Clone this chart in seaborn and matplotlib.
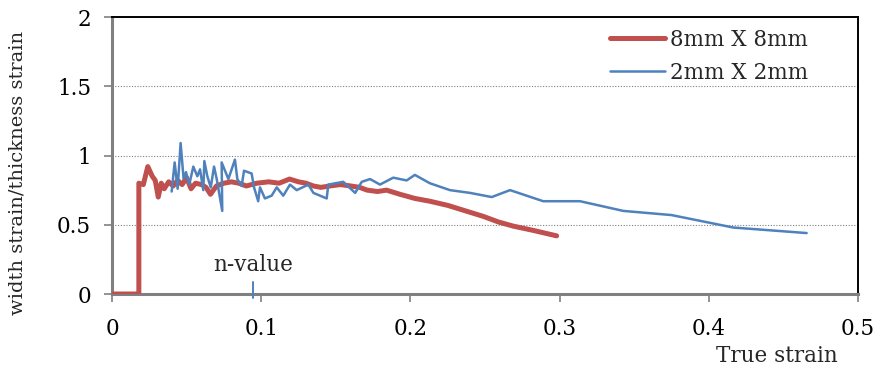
import matplotlib
matplotlib.use("Agg")
import matplotlib.pyplot as plt
import seaborn as sns
import pandas as pd

# 8mm X 8mm gauge: true strain vs width/thickness strain ratio
strain_8mm = [0.0, 0.018, 0.018, 0.021, 0.024, 0.027, 0.029, 0.031, 0.033, 0.035,
              0.038, 0.041, 0.044, 0.047, 0.050, 0.053, 0.056, 0.060, 0.063, 0.066,
              0.070, 0.075, 0.080, 0.085, 0.090, 0.097, 0.105, 0.112, 0.119, 0.125,
              0.130, 0.135, 0.140, 0.146, 0.153, 0.160, 0.166, 0.171, 0.178, 0.184,
              0.193, 0.203, 0.213, 0.225, 0.237, 0.249, 0.259, 0.269, 0.282, 0.298]
ratio_8mm = [0.0, 0.0, 0.80, 0.79, 0.92, 0.85, 0.82, 0.70, 0.80, 0.76,
             0.81, 0.78, 0.82, 0.79, 0.84, 0.76, 0.80, 0.79, 0.77, 0.72,
             0.78, 0.80, 0.81, 0.80, 0.78, 0.80, 0.81, 0.80, 0.83, 0.81,
             0.80, 0.78, 0.77, 0.78, 0.79, 0.78, 0.77, 0.75, 0.74, 0.75,
             0.72, 0.69, 0.67, 0.64, 0.60, 0.56, 0.52, 0.49, 0.46, 0.42]

# 2mm X 2mm gauge
strain_2mm = [0.040, 0.042, 0.044, 0.046, 0.048, 0.0496, 0.0518, 0.0545, 0.0572, 0.059,
              0.0612, 0.0619, 0.0639, 0.0662, 0.0684, 0.0702, 0.0739, 0.0735, 0.078, 0.0824,
              0.084, 0.0869, 0.0885, 0.0936, 0.0952, 0.098, 0.0992, 0.1025, 0.107, 0.1104,
              0.1148, 0.1193, 0.1238, 0.1316, 0.135, 0.1439, 0.145, 0.155, 0.163, 0.1674,
              0.173, 0.1796, 0.1885, 0.1975, 0.203, 0.213, 0.2265, 0.240, 0.2545, 0.2668,
              0.289, 0.3137, 0.3427, 0.375, 0.4164, 0.4656]
ratio_2mm = [0.74, 0.95, 0.76, 1.09, 0.83, 0.88, 0.79, 0.92, 0.85, 0.90,
             0.75, 0.96, 0.85, 0.77, 0.92, 0.83, 0.60, 0.95, 0.83, 0.97,
             0.83, 0.78, 0.89, 0.87, 0.77, 0.67, 0.77, 0.69, 0.71, 0.77,
             0.71, 0.79, 0.75, 0.79, 0.73, 0.69, 0.79, 0.81, 0.73, 0.81,
             0.83, 0.79, 0.84, 0.82, 0.86, 0.80, 0.75, 0.73, 0.70, 0.75,
             0.67, 0.67, 0.60, 0.57, 0.48, 0.44]

series_labels = ["8mm X 8mm", "2mm X 2mm"]
n_value = 0.0945
x_ticks = [0, 0.1, 0.2, 0.3, 0.4, 0.5]
x_tick_labels = ["0", "0.1", "0.2", "0.3", "0.4", "0.5"]
y_ticks = [0, 0.5, 1, 1.5, 2]
y_tick_labels = ["0", "0.5", "1", "1.5", "2"]

df8 = pd.DataFrame({"strain": strain_8mm, "ratio": ratio_8mm})
df2 = pd.DataFrame({"strain": strain_2mm, "ratio": ratio_2mm})

sns.set_style("white")
plt.rcParams["font.family"] = ["DejaVu Serif"]
FS = 15.5

fig = plt.figure(figsize=(8.77, 3.74), dpi=100)
ax = fig.add_axes([0.1277, 0.2139, 0.8506, 0.7406])

red = "#C0504D"
blue = "#4F81BD"

sns.lineplot(data=df8, x="strain", y="ratio", sort=False, estimator=None,
             color=red, linewidth=3.6, label=series_labels[0], ax=ax,
             solid_capstyle="round", zorder=3)
sns.lineplot(data=df2, x="strain", y="ratio", sort=False, estimator=None,
             color=blue, linewidth=1.8, label=series_labels[1], ax=ax, zorder=4)

ax.set_xlim(0, 0.5)
ax.set_ylim(0, 2)
ax.set_xticks(x_ticks)
ax.set_xticklabels(x_tick_labels)
ax.set_yticks(y_ticks)
ax.set_yticklabels(y_tick_labels)
ax.tick_params(axis="both", direction="out", length=6, width=1.2, color="#808080",
               labelsize=FS, labelcolor="black", bottom=True, left=True)
ax.tick_params(axis="x", pad=11)
ax.tick_params(axis="y", pad=9)

# horizontal dotted gridlines
for yv in y_ticks[1:-1]:
    ax.axhline(yv, color="#808080", linestyle=(0, (1, 1.5)), linewidth=0.8, zorder=1)

for side in ("left", "bottom"):
    ax.spines[side].set_color("#808080")
    ax.spines[side].set_linewidth(2.2)
for side in ("top", "right"):
    ax.spines[side].set_color("black")
    ax.spines[side].set_linewidth(1.4)

# n-value marker
ax.plot([n_value, n_value], [-0.03, 0.09], color=blue, linewidth=1.4, clip_on=False, zorder=5)
ax.text(n_value, 0.13, "n-value", ha="center", va="bottom", fontsize=FS)

ax.set_xlabel("")
ax.set_ylabel("")
fig.text(18 / 877, 1 - 173 / 374, "width strain/thickness strain", rotation=90,
         ha="center", va="center", fontsize=14)
fig.text(0.955, 0.02, "True strain", ha="right", va="bottom", fontsize=FS)

leg = ax.legend(loc="upper left", bbox_to_anchor=(0.6676, 0.957), frameon=False,
                fontsize=FS, handlelength=2.55, handletextpad=0.25, labelspacing=0.5,
                borderpad=0, borderaxespad=0)

fig.savefig("out.png", dpi=100)
